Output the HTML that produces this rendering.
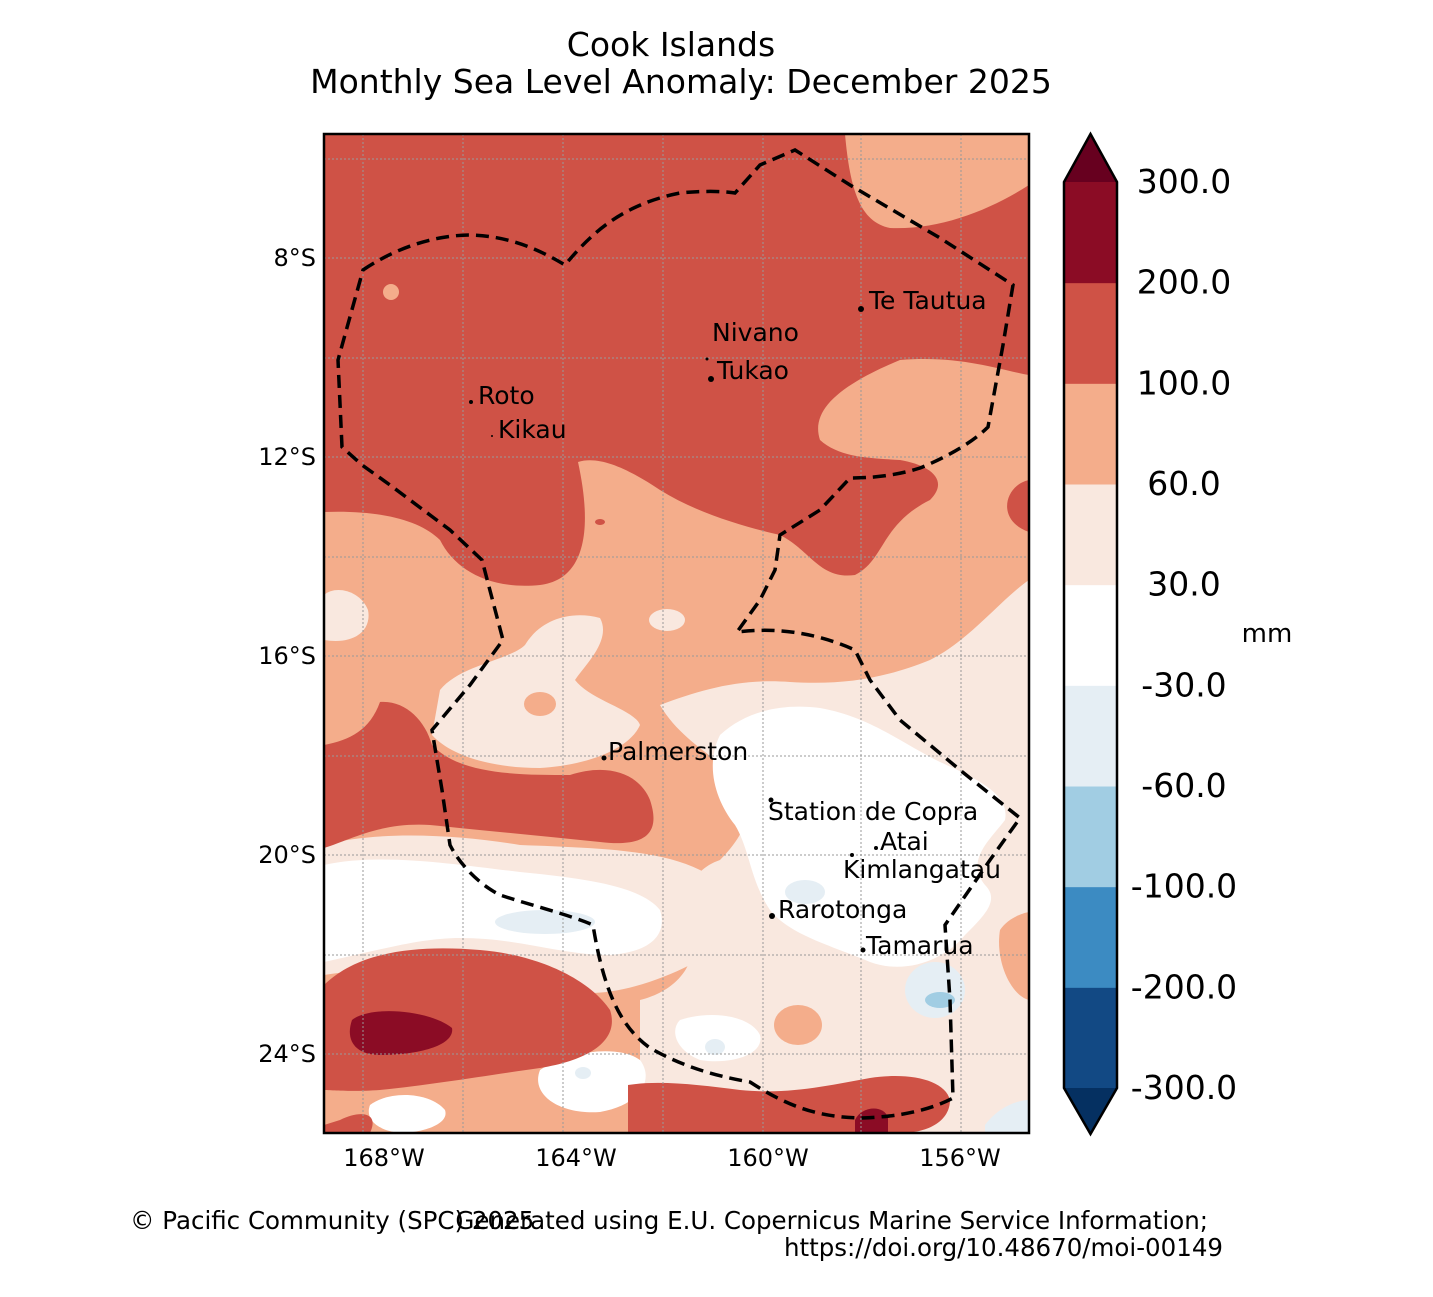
<!DOCTYPE html>
<html><head><meta charset="utf-8">
<style>
html,body{margin:0;padding:0;background:#fff;}
svg text{font-family:"DejaVu Sans","Liberation Sans",sans-serif;}
</style></head>
<body>
<svg id="chart" width="1433" height="1292" viewBox="0 0 1433 1292" xmlns="http://www.w3.org/2000/svg">
<text x="671" y="56" font-size="33" text-anchor="middle">Cook Islands</text>
<text x="681" y="93" font-size="33" text-anchor="middle">Monthly Sea Level Anomaly: December 2025</text>
<defs><clipPath id="mapclip"><rect x="324" y="134" width="705" height="999"/></clipPath></defs>
<g clip-path="url(#mapclip)">
<rect x="324" y="134" width="705" height="999" fill="#cf5246"/>
<path d="M845,134 L1029,134 L1029,185 C990,210 940,230 890,228 C860,222 850,190 845,134Z" fill="#f4ad8b"/>
<circle cx="391" cy="292" r="8" fill="#f4ad8b"/>
<path d="M324,512 C380,510 420,520 440,540 C455,570 490,590 540,585 C580,580 595,540 578,462 C600,455 630,470 660,490 C700,515 750,528 780,535 C810,550 820,580 855,575 C885,560 880,525 930,500 C950,480 930,465 900,460 C870,458 840,458 820,440 C810,410 840,385 900,360 C960,355 1000,370 1029,375 L1029,480 C1005,485 995,520 1029,532 L1029,1133 L324,1133Z" fill="#f4ad8b"/>
<path d="M324,595 C335,585 360,590 368,610 C372,630 355,645 324,640Z" fill="#f9e8df"/>
<path d="M440,690 C460,665 510,660 525,645 C540,620 570,610 600,618 C612,640 585,665 575,680 C590,700 635,710 640,725 C630,748 590,765 540,768 C490,768 450,755 432,735Z" fill="#f9e8df"/>
<ellipse cx="540" cy="704" rx="16" ry="12" fill="#f4ad8b"/>
<ellipse cx="667" cy="620" rx="18" ry="11" fill="#f9e8df"/>
<path d="M660,705 C700,690 740,678 790,682 C840,685 880,680 930,660 C970,640 1000,600 1029,580 L1029,1133 L640,1133 L640,1000 C680,990 700,960 690,930 C680,900 690,870 720,860 C740,840 760,810 740,780 C720,760 680,740 660,705Z" fill="#f9e8df"/>
<path d="M324,845 C380,830 460,835 520,845 C600,848 660,850 700,870 C740,890 730,940 690,965 C650,985 600,1000 560,990 C500,975 420,960 324,975Z" fill="#f9e8df"/>
<path d="M324,865 C380,852 460,865 520,872 C580,878 640,885 660,910 C668,935 650,952 610,955 C560,955 520,938 460,938 C420,938 380,950 324,962Z" fill="#ffffff"/>
<path d="M720,735 C745,712 780,703 820,708 C870,717 900,742 940,762 C980,780 1010,795 1005,820 C990,840 965,860 985,885 C1000,900 985,915 965,935 C945,960 905,975 870,962 C830,945 790,935 770,910 C750,880 750,850 735,825 C715,800 705,765 720,735Z" fill="#ffffff"/>
<path d="M540,1070 C570,1050 620,1045 640,1060 C655,1080 640,1105 600,1112 C560,1115 530,1095 540,1070Z" fill="#ffffff"/>
<path d="M680,1020 C710,1010 750,1015 760,1035 C765,1055 730,1065 700,1060 C675,1050 670,1030 680,1020Z" fill="#ffffff"/>
<path d="M370,1105 C390,1090 430,1092 445,1110 C450,1125 420,1133 400,1133 C375,1130 365,1118 370,1105Z" fill="#ffffff"/>
<path d="M380,702 C405,700 425,720 432,745 C460,775 520,775 570,775 C610,762 640,775 650,800 C660,830 650,848 600,842 C540,836 480,830 430,825 C380,822 350,840 324,848 L324,745 C350,740 370,730 380,702Z" fill="#cf5246"/>
<path d="M324,985 C360,950 420,945 480,950 C540,955 590,980 610,1010 C620,1040 590,1060 540,1068 C490,1075 430,1085 380,1090 C350,1092 330,1090 324,1090Z" fill="#cf5246"/>
<path d="M352,1020 C370,1005 430,1010 452,1028 C455,1045 420,1055 380,1055 C355,1055 345,1040 352,1020Z" fill="#8b0c25"/>
<path d="M628,1085 C660,1080 700,1085 740,1090 C790,1095 830,1085 870,1078 C910,1072 945,1080 950,1100 C950,1120 930,1133 900,1133 L628,1133Z" fill="#cf5246"/>
<path d="M340,1120 C360,1110 380,1112 370,1133 L324,1133 L324,1125Z" fill="#cf5246"/>
<path d="M855,1120 C862,1105 885,1105 888,1118 L888,1133 L855,1133Z" fill="#8b0c25"/>
<ellipse cx="798" cy="1025" rx="24" ry="20" fill="#f4ad8b"/>
<path d="M1000,930 C1010,915 1029,912 1029,912 L1029,1000 C1010,995 995,960 1000,930Z" fill="#f4ad8b"/>
<ellipse cx="600" cy="522" rx="5" ry="3" fill="#cf5246"/>
<ellipse cx="805" cy="892" rx="20" ry="12" fill="#e5eef4"/>
<ellipse cx="545" cy="922" rx="50" ry="12" fill="#e5eef4"/>
<ellipse cx="935" cy="990" rx="30" ry="28" fill="#e5eef4"/>
<ellipse cx="940" cy="1000" rx="15" ry="8" fill="#a1cde3"/>
<ellipse cx="715" cy="1047" rx="10" ry="8" fill="#e5eef4"/>
<ellipse cx="583" cy="1073" rx="8" ry="6" fill="#e5eef4"/>
<path d="M985,1125 C1000,1105 1020,1100 1029,1100 L1029,1133 L985,1133Z" fill="#e5eef4"/>
<g stroke="#999" stroke-width="1" stroke-dasharray="2,2">
<line x1="324" x2="1029" y1="159" y2="159"/><line x1="324" x2="1029" y1="258" y2="258"/><line x1="324" x2="1029" y1="358" y2="358"/><line x1="324" x2="1029" y1="457" y2="457"/><line x1="324" x2="1029" y1="557" y2="557"/><line x1="324" x2="1029" y1="656" y2="656"/><line x1="324" x2="1029" y1="756" y2="756"/><line x1="324" x2="1029" y1="855" y2="855"/><line x1="324" x2="1029" y1="955" y2="955"/><line x1="324" x2="1029" y1="1054" y2="1054"/>
<line y1="134" y2="1133" x1="363" x2="363"/><line y1="134" y2="1133" x1="463" x2="463"/><line y1="134" y2="1133" x1="563" x2="563"/><line y1="134" y2="1133" x1="663" x2="663"/><line y1="134" y2="1133" x1="763" x2="763"/><line y1="134" y2="1133" x1="861" x2="861"/><line y1="134" y2="1133" x1="961" x2="961"/>
</g>
<path d="M363,270 C400,245 440,235 470,235 C510,236 540,250 565,265 C590,235 620,205 680,193 C710,190 730,192 735,193 L760,165 L795,150 L850,185 L940,238 L1013,285 L1003,345 L988,427 C970,445 940,460 920,468 C895,476 870,478 850,478 L820,510 L780,535 L775,570 L760,600 L737,632 C770,628 810,630 855,650 L870,680 L900,720 L960,770 L1020,818 L990,860 L945,925 L950,1000 L953,1098 C930,1110 900,1117 860,1118 C820,1117 790,1108 750,1082 C710,1075 680,1065 650,1048 C625,1030 605,1000 593,925 C570,915 530,905 500,895 C480,885 460,865 450,845 L442,790 L432,730 L470,685 L503,640 L482,560 L450,530 C430,515 410,500 390,485 L362,465 L342,447 L338,360 Z" fill="none" stroke="#000" stroke-width="3.5" stroke-dasharray="13,7"/>
<g font-size="25" fill="#000">
<circle cx="861" cy="309" r="3"/><text x="869" y="309">Te Tautua</text>
<text x="712" y="341">Nivano</text><circle cx="707" cy="359" r="1.5"/>
<circle cx="711" cy="379" r="3"/><text x="717" y="379">Tukao</text>
<circle cx="471" cy="402" r="2"/><text x="478" y="404">Roto</text>
<circle cx="492" cy="436" r="1"/><text x="498" y="438">Kikau</text>
<circle cx="604" cy="758" r="2.5"/><text x="608" y="760">Palmerston</text>
<circle cx="771" cy="800" r="2.5"/><text x="768" y="820">Station de Copra</text>
<circle cx="876" cy="848" r="2"/><text x="880" y="850">Atai</text>
<circle cx="852" cy="855" r="2"/><text x="843" y="878">Kimlangatau</text>
<circle cx="772" cy="916" r="3"/><text x="778" y="918">Rarotonga</text>
<circle cx="863" cy="950" r="2.5"/><text x="866" y="954">Tamarua</text>
</g>
</g>
<rect x="324" y="134" width="705" height="999" fill="none" stroke="#000" stroke-width="2.5"/>
<g font-size="24">
<text x="316" y="266" text-anchor="end">8°S</text>
<text x="316" y="465" text-anchor="end">12°S</text>
<text x="316" y="664" text-anchor="end">16°S</text>
<text x="316" y="863" text-anchor="end">20°S</text>
<text x="316" y="1062" text-anchor="end">24°S</text>
</g>
<g font-size="24" text-anchor="middle">
<text x="384" y="1166">168°W</text>
<text x="576" y="1166">164°W</text>
<text x="768" y="1166">160°W</text>
<text x="960" y="1166">156°W</text>
</g>
<g id="cbar"></g>
<text x="1267" y="642" font-size="26" text-anchor="middle">mm</text>
<g font-size="24.5">
<text x="130" y="1229">© Pacific Community (SPC) 2025</text>
<text x="1208" y="1229" text-anchor="end">Generated using E.U. Copernicus Marine Service Information;</text>
<text x="1223" y="1256" text-anchor="end">https://doi.org/10.48670/moi-00149</text>
</g>
</svg>
<script>
const cbLevels = ["-300.0","-200.0","-100.0","-60.0","-30.0","30.0","60.0","100.0","200.0","300.0"];
const cbColors = ["#124984","#3c8bc2","#a1cde3","#e5eef4","#ffffff","#f9e8df","#f4ad8b","#cf5246","#8b0c25"];
const cbUnder = "#053061", cbOver = "#67001f";
(function(){
  const ns="http://www.w3.org/2000/svg", g=document.getElementById('cbar');
  const x0=1064,w=53,yTop=182,yBot=1088,n=cbColors.length,h=(yBot-yTop)/n;
  const yOf=i=>yBot-i*h;
  cbColors.forEach((c,i)=>{
    const r=document.createElementNS(ns,'rect');
    r.setAttribute('x',x0);r.setAttribute('y',yOf(i+1));r.setAttribute('width',w);r.setAttribute('height',h+0.5);r.setAttribute('fill',c);
    
    
    g.appendChild(r);
  });
  const mk=(pts,fill,name)=>{const p=document.createElementNS(ns,'polygon');p.setAttribute('points',pts);p.setAttribute('fill',fill);
    
    
    g.appendChild(p);};
  mk(`${x0},${yTop} ${x0+w/2},134 ${x0+w},${yTop}`,cbOver,'colorbar-over');
  mk(`${x0},${yBot} ${x0+w/2},1134 ${x0+w},${yBot}`,cbUnder,'colorbar-under');
  const o=document.createElementNS(ns,'polygon');
  o.setAttribute('points',`${x0},${yTop} ${x0+w/2},134 ${x0+w},${yTop} ${x0+w},${yBot} ${x0+w/2},1134 ${x0},${yBot}`);
  o.setAttribute('fill','none');o.setAttribute('stroke','#000');o.setAttribute('stroke-width','2.5');
  
  
  g.appendChild(o);
  cbLevels.forEach((l,i)=>{
    const t=document.createElementNS(ns,'text');
    t.setAttribute('x',1184);t.setAttribute('y',yOf(i)+11);t.setAttribute('font-size','33');t.setAttribute('text-anchor','middle');
    t.textContent=l;
    
    
    g.appendChild(t);
  });
})();
</script>
</body></html>
